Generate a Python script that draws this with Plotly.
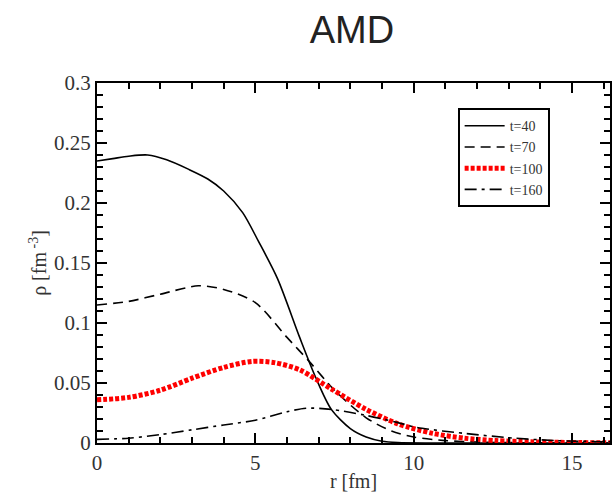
import plotly.graph_objects as go

r40 = [0, 0.5, 1.0, 1.6, 2.2, 2.9, 3.5, 4.0, 4.6, 5.1, 5.7, 6.4, 6.9, 7.4, 8.0, 8.5, 9.0, 9.5, 10.5, 16.2]
rho40 = [0.235, 0.237, 0.239, 0.240, 0.236, 0.228, 0.220, 0.210, 0.192, 0.168, 0.137, 0.088, 0.055, 0.028, 0.012, 0.005, 0.0015, 0.0004, 0.0, 0.0]

r70 = [0, 1.0, 2.0, 3.2, 4.0, 5.0, 6.0, 6.7, 7.5, 8.5, 9.3, 10.0, 11.0, 12.0, 13.0, 16.2]
rho70 = [0.115, 0.118, 0.124, 0.131, 0.128, 0.117, 0.088, 0.068, 0.044, 0.021, 0.010, 0.005, 0.002, 0.0008, 0.0003, 0.0]

r100 = [0, 1.0, 2.0, 3.0, 4.0, 4.9, 5.6, 6.4, 7.4, 8.5, 9.5, 10.6, 11.6, 12.6, 13.7, 15.0, 16.2]
rho100 = [0.036, 0.038, 0.044, 0.054, 0.063, 0.068, 0.067, 0.061, 0.045, 0.028, 0.016, 0.008, 0.004, 0.002, 0.001, 0.0004, 0.0002]

r160 = [0, 1.0, 2.0, 3.0, 4.0, 5.0, 6.0, 6.6, 7.4, 8.5, 9.5, 10.1, 11.6, 13.2, 14.5, 16.2]
rho160 = [0.003, 0.004, 0.007, 0.011, 0.015, 0.019, 0.026, 0.029, 0.028, 0.023, 0.017, 0.013, 0.008, 0.004, 0.002, 0.001]

series = [
    ("t=40", r40, rho40, dict(color="black", width=1.6, dash="solid")),
    ("t=70", r70, rho70, dict(color="black", width=1.6, dash="10px,6px")),
    ("t=100", r100, rho100, dict(color="red", width=5, dash="4px,2px")),
    ("t=160", r160, rho160, dict(color="black", width=1.6, dash="12px,5px,3px,5px")),
]

fig = go.Figure()
for name, x, y, line in series:
    fig.add_trace(go.Scatter(x=x, y=y, mode="lines", name=name,
                             line=dict(shape="spline", smoothing=0.8, **line)))

tickfont = dict(family="Liberation Serif", size=21, color="#333")

fig.update_layout(
    width=613, height=492,
    margin=dict(l=97, r=1, t=83, b=49),
    plot_bgcolor="white", paper_bgcolor="white",
    title=dict(text="AMD", x=0.574, xanchor="center", y=0.94, yanchor="middle",
               font=dict(family="Liberation Sans", size=38, color="#222")),
    legend=dict(x=0.703, y=0.93, xanchor="left", yanchor="top",
                bordercolor="black", borderwidth=2, bgcolor="white",
                font=dict(family="Liberation Serif", size=14, color="#333"),
                itemwidth=40, tracegroupgap=0),
    showlegend=True,
    xaxis=dict(range=[0, 16.2], tickmode="linear", dtick=5, tick0=0,
               showgrid=False, zeroline=False, showline=True, linecolor="black",
               linewidth=2, mirror="allticks", ticks="inside", tickcolor="black",
               tickwidth=2, ticklen=10, tickfont=tickfont,
               minor=dict(ticks="inside", dtick=1, tick0=0, ticklen=6, tickcolor="black", tickwidth=2),
               title=dict(text="r [fm]", font=dict(family="Liberation Serif", size=20, color="#333"), standoff=2)),
    yaxis=dict(range=[0, 0.3], tickmode="linear", dtick=0.05, tick0=0,
               showgrid=False, zeroline=False, showline=True, linecolor="black",
               linewidth=2, mirror="allticks", ticks="inside", tickcolor="black",
               tickwidth=2, ticklen=10, tickfont=tickfont,
               minor=dict(ticks="inside", dtick=0.01, tick0=0, ticklen=6, tickcolor="black", tickwidth=2),
               title=dict(text="ρ [fm<sup> -3</sup>]", font=dict(family="Liberation Serif", size=20, color="#333"), standoff=2)),
)

fig.write_html("out.html")
